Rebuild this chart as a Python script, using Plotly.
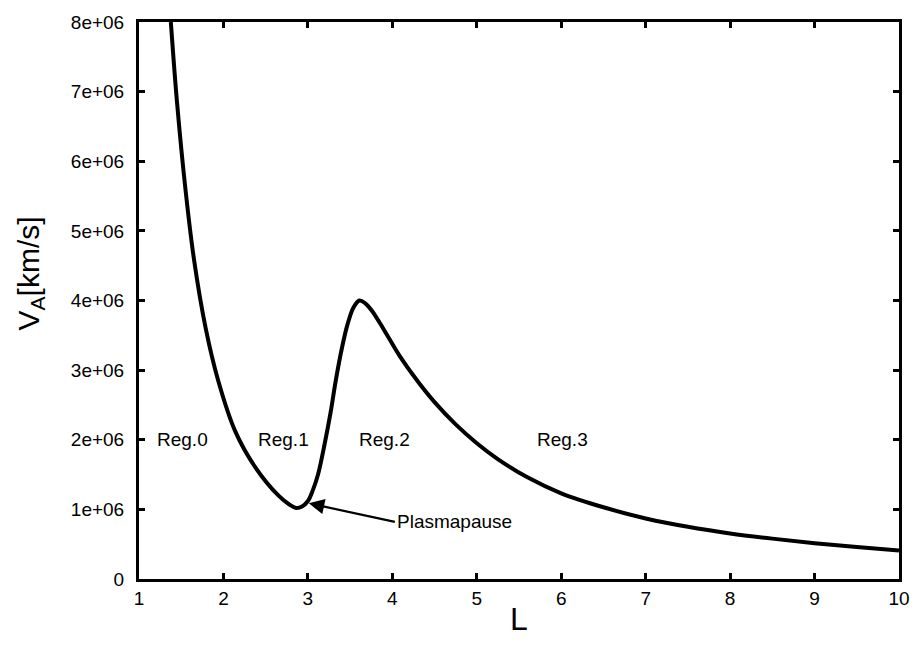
import plotly.graph_objects as go

# Data
L_vals = [1.377, 1.45, 1.55, 1.65, 1.79, 1.94, 2.14, 2.38, 2.65, 2.78, 2.86, 2.93, 3.00, 3.06, 3.12, 3.20, 3.27, 3.33, 3.40, 3.47, 3.54, 3.61, 3.68, 3.76, 3.85, 3.95, 4.10, 4.30, 4.50, 4.75, 5.00, 5.24, 5.60, 6.00, 6.50, 7.00, 7.50, 8.00, 8.50, 9.00, 9.50, 10.0]
VA_vals = [8.0e6, 6.85e6, 5.6e6, 4.6e6, 3.6e6, 2.84e6, 2.12e6, 1.6e6, 1.2e6, 1.07e6, 1.02e6, 1.04e6, 1.12e6, 1.28e6, 1.5e6, 1.95e6, 2.4e6, 2.85e6, 3.3e6, 3.66e6, 3.9e6, 4.0e6, 3.96e6, 3.85e6, 3.68e6, 3.48e6, 3.18e6, 2.84e6, 2.54e6, 2.22e6, 1.95e6, 1.73e6, 1.46e6, 1.23e6, 1.03e6, 0.87e6, 0.75e6, 0.655e6, 0.58e6, 0.515e6, 0.46e6, 0.41e6]

x_ticks = [1, 2, 3, 4, 5, 6, 7, 8, 9, 10]
y_ticks = [0, 1e6, 2e6, 3e6, 4e6, 5e6, 6e6, 7e6, 8e6]
y_ticktext = ["0", "1e+06", "2e+06", "3e+06", "4e+06", "5e+06", "6e+06", "7e+06", "8e+06"]

region_labels = ["Reg.0", "Reg.1", "Reg.2", "Reg.3"]
region_L = [1.52, 2.71, 3.91, 6.02]
region_V = [2.0e6, 2.0e6, 2.0e6, 2.0e6]

font_family = "Liberation Sans, Arial, Helvetica, sans-serif"

fig = go.Figure()
fig.add_trace(go.Scatter(
    x=L_vals, y=VA_vals, mode="lines",
    line=dict(color="black", width=4, shape="spline", smoothing=1.0),
    showlegend=False, hoverinfo="skip",
))

for t, lx, ly in zip(region_labels, region_L, region_V):
    fig.add_annotation(x=lx, y=ly, text=t, showarrow=False,
                       font=dict(size=19, color="black", family=font_family))

fig.add_annotation(x=3.0, y=1.09e6, ax=4.03, ay=0.82e6,
                   axref="x", ayref="y", xref="x", yref="y",
                   xanchor="left",
                   text="Plasmapause", showarrow=True, arrowhead=2, arrowsize=1.4,
                   arrowwidth=2.2, arrowcolor="black", standoff=1,
                   font=dict(size=19, color="black", family=font_family))

# y-axis title
fig.add_annotation(xref="paper", yref="paper", x=-0.1425, y=0.548,
                   text="V<sub>A</sub>[km/s]", textangle=-90, showarrow=False,
                   xanchor="center", yanchor="middle",
                   font=dict(size=30, color="black", family=font_family))

axis_common = dict(
    showline=True, linecolor="black", linewidth=3, mirror="ticks",
    ticks="inside", ticklen=6, tickwidth=2.5, tickcolor="black",
    showgrid=False, zeroline=False,
    tickfont=dict(size=19, color="black", family=font_family),
)

fig.update_layout(
    width=922, height=646,
    margin=dict(l=139, r=18, t=15, b=67),
    paper_bgcolor="white", plot_bgcolor="white",
    xaxis=dict(range=[1, 10], tickvals=x_ticks,
               title=dict(text="L", font=dict(size=32, color="black", family=font_family), standoff=0),
               **axis_common),
    yaxis=dict(range=[0, 8e6], tickvals=y_ticks, ticktext=y_ticktext,
               ticklabelstandoff=8,
               **axis_common),
)

fig.write_html("out.html")
